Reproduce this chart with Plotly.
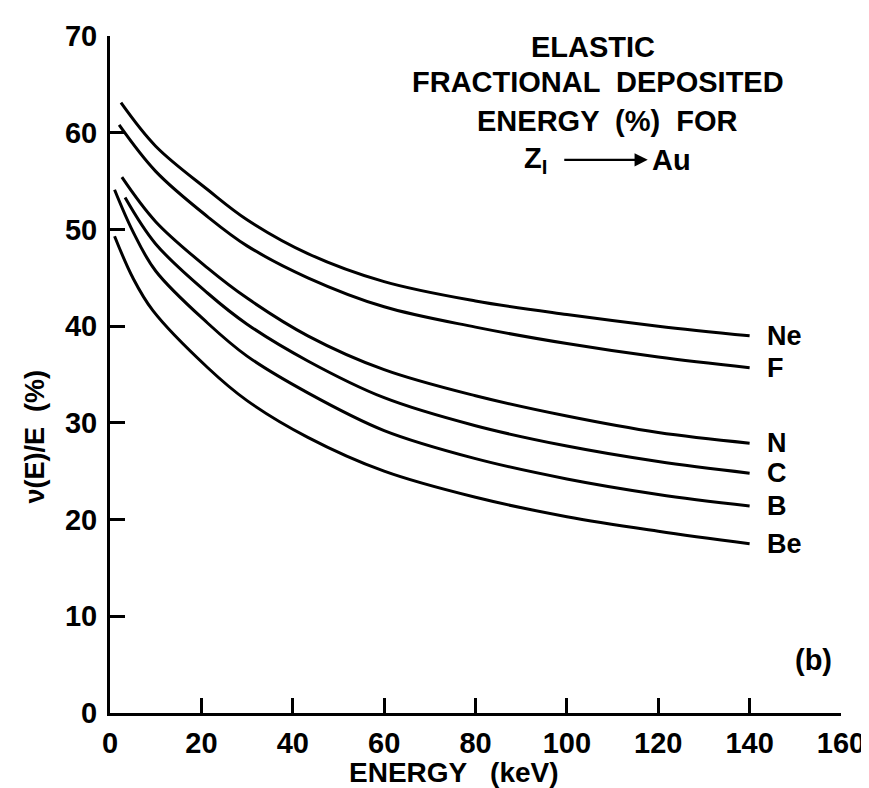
import plotly.graph_objects as go

# ---- data ----
series_names = ["Ne", "F", "N", "C", "B", "Be"]

ne_x = [2.4, 10, 21.4, 30, 43.3, 60, 80, 100, 120, 140]
ne_y = [63.1, 58.6, 54.1, 51.0, 47.5, 44.6, 42.6, 41.2, 40.0, 39.0]

f_x = [2.0, 10, 21.4, 30, 43.3, 60, 80, 100, 120, 140]
f_y = [60.8, 56.0, 51.3, 48.3, 45.0, 42.0, 39.9, 38.2, 36.8, 35.7]

n_x = [2.6, 10, 21.4, 30, 43.3, 60, 80, 100, 120, 140]
n_y = [55.4, 50.8, 46.0, 42.9, 39.0, 35.5, 32.8, 30.7, 29.0, 27.9]

c_x = [3.3, 10, 21.4, 30, 43.3, 60, 80, 100, 120, 140]
c_y = [53.3, 48.5, 43.4, 40.2, 36.4, 32.6, 29.7, 27.6, 26.0, 24.8]

b_x = [1.0, 5, 10, 21.4, 30, 43.3, 60, 80, 100, 120, 140]
b_y = [54.1, 49.8, 45.7, 40.3, 36.9, 33.1, 29.2, 26.3, 24.2, 22.6, 21.4]

be_x = [1.0, 5, 9.4, 21.4, 30, 43.3, 60, 80, 100, 120, 140]
be_y = [49.3, 45.0, 41.6, 35.7, 32.3, 28.5, 25.0, 22.3, 20.3, 18.8, 17.5]

x_ticks = [0, 20, 40, 60, 80, 100, 120, 140, 160]
y_ticks = [0, 10, 20, 30, 40, 50, 60, 70]

all_x = [ne_x, f_x, n_x, c_x, b_x, be_x]
all_y = [ne_y, f_y, n_y, c_y, b_y, be_y]

FONT = "Liberation Sans"


def fnt(size):
    return dict(family=FONT, size=size, color="black", weight="bold")


fig = go.Figure()
for name, xs, ys in zip(series_names, all_x, all_y):
    fig.add_trace(go.Scatter(
        x=xs, y=ys, mode="lines", name=name,
        line=dict(color="black", width=3, shape="spline", smoothing=1.0),
        showlegend=False, hoverinfo="skip"))
    fig.add_annotation(x=143.3, y=ys[-1], text=name, showarrow=False,
                       xanchor="left", yanchor="middle", font=fnt(27))

# title block
title_lines = [("ELASTIC", 105.7, 68.9),
               ("FRACTIONAL  DEPOSITED", 106.8, 65.2),
               ("ENERGY  (%)  FOR", 109.0, 61.2)]
for txt, xx, yy in title_lines:
    fig.add_annotation(x=xx, y=yy, text=txt, showarrow=False,
                       xanchor="center", yanchor="middle", font=fnt(29))
fig.add_annotation(x=93.2, y=57.2, text="Z<sub>I</sub>", showarrow=False,
                   xanchor="center", yanchor="middle", font=fnt(29))
fig.add_annotation(x=122.8, y=57.2, text="Au", showarrow=False,
                   xanchor="center", yanchor="middle", font=fnt(29))
fig.add_annotation(x=117.7, y=57.2, ax=99.1, ay=57.2, axref="x", ayref="y",
                   text="", showarrow=True, arrowhead=2, arrowsize=1.2,
                   arrowwidth=2.2, arrowcolor="black")
fig.add_annotation(x=154.0, y=5.5, text="(b)", showarrow=False,
                   xanchor="center", yanchor="middle", font=fnt(29))

# axis titles
fig.add_annotation(xref="paper", yref="paper", x=-0.103, y=0.408,
                   text="ν(E)/E  (%)", textangle=-90, showarrow=False,
                   xanchor="center", yanchor="middle", font=fnt(27))
fig.add_annotation(xref="paper", yref="paper", x=0.47, y=-0.088,
                   text="ENERGY   (keV)", showarrow=False,
                   xanchor="center", yanchor="middle", font=fnt(28))

fig.update_xaxes(range=[0, 160], tickvals=x_ticks, ticktext=[str(v) for v in x_ticks],
                 showline=True, linecolor="black", linewidth=3,
                 ticks="inside", ticklen=15, tickwidth=3, tickcolor="black",
                 showgrid=False, zeroline=False, ticklabelstandoff=2,
                 tickfont=fnt(29))
fig.update_yaxes(range=[0, 70], tickvals=y_ticks, ticktext=[str(v) for v in y_ticks],
                 showline=True, linecolor="black", linewidth=3,
                 ticks="inside", ticklen=15, tickwidth=3, tickcolor="black",
                 showgrid=False, zeroline=False, ticklabelstandoff=4,
                 tickfont=fnt(29))

fig.update_layout(width=869, height=788,
                  margin=dict(l=102, r=36, t=23, b=83),
                  paper_bgcolor="white", plot_bgcolor="white")

fig.write_html("out.html")
